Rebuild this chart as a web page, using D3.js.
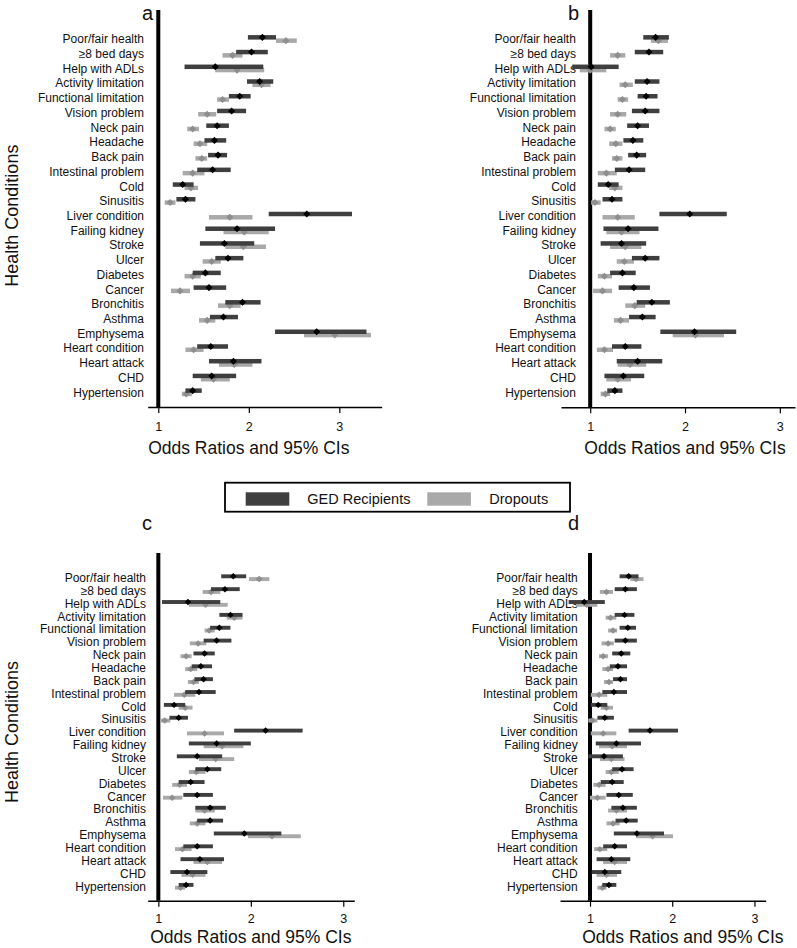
<!DOCTYPE html>
<html><head><meta charset="utf-8">
<script src="https://cdn.jsdelivr.net/npm/d3@7"></script>
<style>body{margin:0;background:#fff}svg{display:block}text{font-family:"Liberation Sans",Arial,sans-serif}</style>
</head><body><svg id="c" width="797" height="948"></svg>
<script>
const conditions = ["Poor/fair health","\u22658 bed days","Help with ADLs","Activity limitation","Functional limitation","Vision problem","Neck pain","Headache","Back pain","Intestinal problem","Cold","Sinusitis","Liver condition","Failing kidney","Stroke","Ulcer","Diabetes","Cancer","Bronchitis","Asthma","Emphysema","Heart condition","Heart attack","CHD","Hypertension"];
const seriesNames = ["GED Recipients","Dropouts"];
const tickValues = [1,2,3];
const panelLetters = ["a","b","c","d"];
// [odds ratio, lower 95% CI, upper 95% CI]
const gedA = [[2.15,1.99,2.30],[2.03,1.86,2.21],[1.63,1.29,2.16],[2.12,1.98,2.27],[1.90,1.78,2.02],[1.81,1.65,1.97],[1.65,1.53,1.78],[1.62,1.51,1.75],[1.66,1.55,1.76],[1.60,1.43,1.80],[1.27,1.16,1.39],[1.30,1.20,1.41],[2.64,2.22,3.14],[1.87,1.52,2.29],[1.73,1.46,2.06],[1.77,1.63,1.94],[1.52,1.38,1.69],[1.56,1.39,1.75],[1.93,1.74,2.13],[1.72,1.57,1.88],[2.75,2.29,3.30],[1.58,1.43,1.77],[1.83,1.56,2.14],[1.59,1.38,1.86],[1.38,1.30,1.48]];
const dropA = [[2.41,2.30,2.53],[1.82,1.71,1.93],[1.87,1.63,2.17],[2.14,2.04,2.24],[1.71,1.65,1.78],[1.54,1.44,1.64],[1.38,1.32,1.45],[1.46,1.39,1.54],[1.48,1.41,1.54],[1.38,1.27,1.51],[1.36,1.29,1.44],[1.13,1.07,1.19],[1.79,1.56,2.04],[1.95,1.72,2.22],[1.94,1.74,2.19],[1.59,1.49,1.69],[1.38,1.29,1.47],[1.24,1.14,1.35],[1.79,1.66,1.91],[1.54,1.45,1.63],[2.95,2.61,3.35],[1.39,1.30,1.50],[1.84,1.67,2.04],[1.61,1.47,1.79],[1.31,1.26,1.37]];
const gedB = [[1.69,1.56,1.83],[1.62,1.47,1.77],[1.01,0.81,1.30],[1.60,1.47,1.73],[1.59,1.50,1.71],[1.58,1.44,1.73],[1.50,1.39,1.62],[1.45,1.35,1.56],[1.49,1.40,1.59],[1.41,1.26,1.58],[1.19,1.08,1.30],[1.23,1.13,1.34],[2.05,1.73,2.44],[1.40,1.14,1.72],[1.33,1.11,1.59],[1.58,1.44,1.73],[1.34,1.21,1.48],[1.46,1.30,1.63],[1.65,1.49,1.84],[1.55,1.41,1.69],[2.10,1.74,2.54],[1.37,1.23,1.54],[1.50,1.28,1.76],[1.35,1.15,1.57],[1.26,1.18,1.34]];
const dropB = [[1.72,1.64,1.82],[1.29,1.21,1.37],[1.00,0.89,1.17],[1.37,1.31,1.45],[1.34,1.29,1.40],[1.29,1.21,1.38],[1.21,1.15,1.27],[1.27,1.20,1.34],[1.28,1.23,1.34],[1.17,1.08,1.28],[1.26,1.20,1.34],[1.05,1.01,1.11],[1.29,1.13,1.47],[1.33,1.17,1.52],[1.37,1.21,1.54],[1.36,1.28,1.46],[1.15,1.08,1.23],[1.13,1.03,1.23],[1.47,1.37,1.58],[1.32,1.25,1.41],[2.11,1.87,2.41],[1.15,1.07,1.24],[1.42,1.29,1.59],[1.29,1.17,1.43],[1.16,1.11,1.21]];
const gedC = [[1.81,1.68,1.95],[1.72,1.57,1.88],[1.32,1.04,1.67],[1.78,1.66,1.91],[1.66,1.56,1.78],[1.63,1.49,1.79],[1.50,1.38,1.61],[1.46,1.36,1.58],[1.49,1.39,1.59],[1.44,1.29,1.62],[1.17,1.06,1.29],[1.22,1.12,1.32],[2.16,1.82,2.56],[1.63,1.33,2.00],[1.42,1.20,1.69],[1.53,1.40,1.68],[1.35,1.22,1.50],[1.42,1.27,1.59],[1.56,1.40,1.73],[1.56,1.42,1.70],[1.93,1.60,2.33],[1.42,1.27,1.59],[1.45,1.24,1.71],[1.31,1.13,1.53],[1.30,1.22,1.38]];
const dropC = [[2.09,1.98,2.20],[1.57,1.48,1.67],[1.51,1.33,1.75],[1.82,1.74,1.91],[1.55,1.50,1.61],[1.43,1.34,1.52],[1.30,1.24,1.36],[1.35,1.29,1.42],[1.38,1.32,1.44],[1.28,1.17,1.40],[1.29,1.22,1.37],[1.07,1.02,1.13],[1.50,1.31,1.71],[1.69,1.49,1.92],[1.62,1.44,1.82],[1.41,1.33,1.51],[1.23,1.15,1.31],[1.15,1.05,1.26],[1.50,1.40,1.61],[1.42,1.34,1.51],[2.23,1.97,2.54],[1.26,1.18,1.36],[1.53,1.38,1.69],[1.37,1.25,1.51],[1.24,1.18,1.29]];
const gedD = [[1.47,1.36,1.59],[1.43,1.30,1.57],[0.93,0.74,1.18],[1.42,1.30,1.54],[1.46,1.36,1.56],[1.43,1.30,1.57],[1.38,1.27,1.49],[1.34,1.24,1.45],[1.37,1.28,1.45],[1.29,1.15,1.45],[1.10,1.01,1.21],[1.18,1.09,1.29],[1.73,1.47,2.07],[1.32,1.07,1.62],[1.17,0.98,1.40],[1.39,1.27,1.53],[1.27,1.13,1.41],[1.35,1.20,1.52],[1.40,1.26,1.57],[1.44,1.31,1.58],[1.57,1.29,1.90],[1.30,1.16,1.45],[1.26,1.08,1.49],[1.18,1.02,1.38],[1.23,1.15,1.32]];
const dropD = [[1.56,1.49,1.65],[1.20,1.12,1.28],[0.96,0.83,1.09],[1.25,1.19,1.32],[1.28,1.22,1.33],[1.22,1.14,1.29],[1.16,1.11,1.22],[1.22,1.15,1.28],[1.23,1.17,1.28],[1.11,1.01,1.21],[1.20,1.13,1.28],[1.03,0.98,1.09],[1.16,1.01,1.32],[1.27,1.11,1.45],[1.26,1.12,1.42],[1.26,1.19,1.35],[1.11,1.04,1.19],[1.09,1.00,1.19],[1.32,1.22,1.45],[1.28,1.20,1.36],[1.76,1.56,2.01],[1.12,1.05,1.21],[1.30,1.16,1.45],[1.20,1.08,1.33],[1.15,1.09,1.20]];

const svg = d3.select("#c");
const DARK = "#3f3f3f", LIGHT = "#a9a9a9", LIGHTPT = "#8e8e8e";

const panels = [
  {letter:panelLetters[0], ged:gedA, drop:dropA, domain:[0.883,3.468], range:[147.7,381.7], y0:39.0, y1:392.3, axisY:407, lineTop:10, off:1.65, bh:4.5, pad:9, lx:142, ly:20, labGap:14.3, titleDy:46.5, titleV:2, showY:true},
  {letter:panelLetters[1], ged:gedB, drop:dropB, domain:[0.692,3.16], range:[561,795], y0:39.0, y1:392.3, axisY:407.3, lineTop:10, off:1.65, bh:4.5, pad:9, lx:568, ly:20, labGap:14.3, titleDy:46.5, titleV:2, showY:false},
  {letter:panelLetters[2], ged:gedC, drop:dropC, domain:[0.885,3.119], range:[147.7,354.3], y0:577.7, y1:886.3, axisY:900.7, lineTop:553, off:1.4, bh:3.9, pad:7.5, lx:142, ly:530, labGap:12.3, titleDy:42.5, titleV:2, showY:true},
  {letter:panelLetters[3], ged:gedD, drop:dropD, domain:[0.635,3.137], range:[560,765.7], y0:577.7, y1:886.3, axisY:900.7, lineTop:553, off:1.4, bh:3.9, pad:7.5, lx:568, ly:530, labGap:12.3, titleDy:42.5, titleV:2.13, showY:false}
];

panels.forEach(p => {
  const x = d3.scaleLinear().domain(p.domain).range(p.range);
  const y = d3.scalePoint().domain(conditions).range([p.y0, p.y1]);
  const g = svg.append("g");

  // reference line at OR = 1
  g.append("line").attr("x1", x(1)).attr("x2", x(1)).attr("y1", p.lineTop).attr("y2", p.axisY)
    .attr("stroke", "#000").attr("stroke-width", 4);

  // axis
  const ax = g.append("g").attr("transform", `translate(0,${p.axisY})`)
    .call(d3.axisBottom(x).tickValues(tickValues).tickFormat(d3.format("d")).tickSize(6).tickSizeOuter(0).tickPadding(p.pad));
  ax.select(".domain").attr("stroke", "#000").attr("stroke-width", 1.4);
  ax.selectAll(".tick line").attr("stroke", "#000").attr("stroke-width", 1.2);
  ax.selectAll(".tick text").attr("font-size", 12.5).attr("fill", "#111").attr("font-family", "Liberation Sans, Arial, sans-serif");

  // axis title
  g.append("text").attr("x", x(p.titleV)).attr("y", p.axisY + p.titleDy)
    .attr("text-anchor", "middle").attr("font-size", 17.5).attr("fill", "#111").text("Odds Ratios and 95% CIs");

  // condition labels
  g.selectAll("text.lab").data(conditions).join("text").attr("class","lab")
    .attr("x", x(1) - p.labGap).attr("y", d => y(d)).attr("dy", "0.36em")
    .attr("text-anchor", "end").attr("font-size", 12).attr("fill", "#111").text(d => d);

  // panel letter
  g.append("text").attr("x", p.lx).attr("y", p.ly).attr("font-size", 20).attr("fill", "#111").text(p.letter);

  if (p.showY) {
    const cy = (p.y0 + p.y1) / 2;
    g.append("text").attr("transform", `translate(18,${cy}) rotate(-90)`).attr("text-anchor", "middle")
      .attr("font-size", 18).attr("fill", "#111").text("Health Conditions");
  }

  const drawSeries = (data, dy, barColor, ptColor) => {
    g.append("g").selectAll("rect").data(data).join("rect")
      .attr("x", d => x(d[1])).attr("width", d => x(d[2]) - x(d[1]))
      .attr("y", (d, i) => y(conditions[i]) + dy - p.bh / 2).attr("height", p.bh)
      .attr("fill", barColor);
    g.append("g").selectAll("path").data(data).join("path")
      .attr("d", d3.symbol(d3.symbolSquare, p.bh > 4 ? 25 : 21))
      .attr("transform", (d, i) => `translate(${x(d[0])},${y(conditions[i]) + dy}) rotate(45)`)
      .attr("fill", ptColor);
  };
  drawSeries(p.drop, p.off, LIGHT, LIGHTPT);
  drawSeries(p.ged, -p.off, DARK, "#000");
});

// legend
const lg = svg.append("g");
lg.append("rect").attr("x", 225).attr("y", 482.7).attr("width", 345).attr("height", 29)
  .attr("fill", "#fff").attr("stroke", "#000").attr("stroke-width", 1.8);
const legendItems = [{name: seriesNames[0], color: DARK, sx: 245.7, tx: 307.3}, {name: seriesNames[1], color: LIGHT, sx: 427.3, tx: 489.3}];
legendItems.forEach(it => {
  lg.append("rect").attr("x", it.sx).attr("y", 492.3).attr("width", 43.6).attr("height", 13.4).attr("fill", it.color);
  lg.append("text").attr("x", it.tx).attr("y", 503.5).attr("font-size", 14.5).attr("fill", "#111")
    .attr("font-family", "Lato, 'Liberation Sans', sans-serif").text(it.name);
});
</script></body></html>
